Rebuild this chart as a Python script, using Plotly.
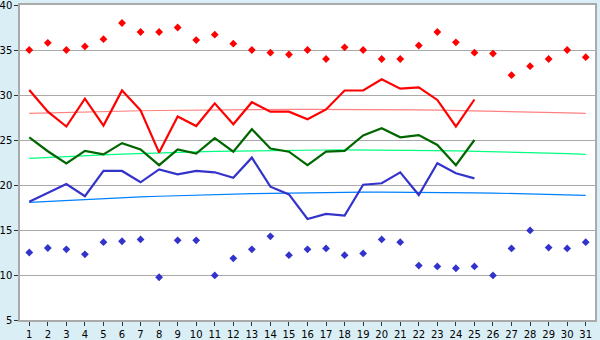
import plotly.graph_objects as go

days = list(range(1, 32))
days25 = list(range(1, 26))

max_points = [35.0, 35.8, 35.0, 35.4, 36.2, 38.0, 37.0, 37.0, 37.5, 36.1,
              36.7, 35.7, 35.0, 34.7, 34.5, 35.0, 34.0, 35.3, 35.0, 34.0,
              34.0, 35.5, 37.0, 35.85, 34.7, 34.6, 32.2, 33.2, 34.0, 35.0, 34.2]
min_points = [12.5, 13.0, 12.85, 12.3, 13.65, 13.75, 13.95, 9.75, 13.85, 13.85,
              9.95, 11.85, 12.85, 14.3, 12.2, 12.85, 12.95, 12.2, 12.4, 13.95,
              13.65, 11.05, 10.95, 10.75, 10.95, 9.95, 12.95, 14.95, 13.05, 12.95, 13.65]

red_line = [30.55, 28.15, 26.5, 29.6, 26.6, 30.5, 28.3, 23.6, 27.6, 26.55,
            29.07, 26.75, 29.2, 28.15, 28.15, 27.3, 28.4, 30.5, 30.5, 31.75,
            30.7, 30.85, 29.45, 26.5, 29.5]
green_line = [25.3, 23.75, 22.4, 23.8, 23.4, 24.65, 23.95, 22.2, 23.95, 23.5,
              25.2, 23.7, 26.2, 24.05, 23.7, 22.2, 23.7, 23.8, 25.5, 26.3,
              25.3, 25.55, 24.45, 22.2, 25.0]
blue_line = [18.15, 19.1, 20.1, 18.75, 21.56, 21.56, 20.3, 21.74, 21.19, 21.56,
             21.41, 20.81, 23.04, 19.81, 18.96, 16.22, 16.78, 16.59, 20.03, 20.19,
             21.41, 18.89, 22.41, 21.3, 20.74]

red_trend = [27.96, 28.02, 28.07, 28.12, 28.17, 28.21, 28.25, 28.28, 28.31, 28.34,
             28.36, 28.38, 28.39, 28.40, 28.41, 28.41, 28.41, 28.40, 28.39, 28.38,
             28.36, 28.34, 28.31, 28.28, 28.25, 28.21, 28.17, 28.12, 28.07, 28.02, 27.96]
green_trend = [22.96, 23.07, 23.17, 23.26, 23.34, 23.42, 23.50, 23.57, 23.63, 23.68,
               23.73, 23.77, 23.81, 23.84, 23.87, 23.88, 23.89, 23.90, 23.90, 23.89,
               23.88, 23.86, 23.83, 23.80, 23.76, 23.72, 23.67, 23.61, 23.55, 23.48, 23.40]
blue_trend = [18.08, 18.19, 18.30, 18.40, 18.50, 18.59, 18.67, 18.75, 18.82, 18.88,
              18.94, 18.99, 19.04, 19.08, 19.12, 19.15, 19.17, 19.18, 19.20, 19.20,
              19.20, 19.19, 19.18, 19.16, 19.13, 19.10, 19.06, 19.02, 18.97, 18.91, 18.85]

y_ticks = [5, 10, 15, 20, 25, 30, 35, 40]

fig = go.Figure()

# trend lines
fig.add_trace(go.Scatter(x=days, y=red_trend, mode="lines",
                         line=dict(color="#ff8080", width=1.2), hoverinfo="skip"))
fig.add_trace(go.Scatter(x=days, y=green_trend, mode="lines",
                         line=dict(color="#00ff80", width=1.2), hoverinfo="skip"))
fig.add_trace(go.Scatter(x=days, y=blue_trend, mode="lines",
                         line=dict(color="#0080ff", width=1.2), hoverinfo="skip"))

# main lines
fig.add_trace(go.Scatter(x=days25, y=red_line, mode="lines",
                         line=dict(color="#ff0000", width=2.2)))
fig.add_trace(go.Scatter(x=days25, y=green_line, mode="lines",
                         line=dict(color="#006600", width=2.2)))
fig.add_trace(go.Scatter(x=days25, y=blue_line, mode="lines",
                         line=dict(color="#3333cc", width=2.2)))

# points
fig.add_trace(go.Scatter(x=days, y=max_points, mode="markers",
                         marker=dict(color="#ff0000", symbol="diamond", size=6,
                                     line=dict(width=0))))
fig.add_trace(go.Scatter(x=days, y=min_points, mode="markers",
                         marker=dict(color="#3333cc", symbol="diamond", size=6,
                                     line=dict(width=0))))

fig.update_layout(
    width=600, height=340,
    margin=dict(l=20, r=5, t=5, b=20),
    paper_bgcolor="#d9eef5",
    plot_bgcolor="#ffffff",
    showlegend=False,
    font=dict(family="DejaVu Sans", size=10, color="#000000"),
)
fig.update_xaxes(
    range=[0.5, 31.5], tickvals=days, ticktext=[str(d) for d in days],
    showgrid=False, zeroline=False, automargin=False, ticklabeloverflow="allow",
    showline=True, linecolor="#aaaaaa", linewidth=1.5, mirror=True,
    ticks="outside", ticklen=4, tickcolor="#333333", tickwidth=1,
)
fig.update_yaxes(
    range=[5, 40], tickvals=y_ticks, automargin=False, ticklabeloverflow="allow",
    showgrid=True, gridcolor="#aaaaaa", gridwidth=1, zeroline=False,
    showline=True, linecolor="#aaaaaa", linewidth=1.5, mirror=True,
    ticks="outside", ticklen=4, tickcolor="#333333", tickwidth=1,
)

fig.write_html("out.html")
